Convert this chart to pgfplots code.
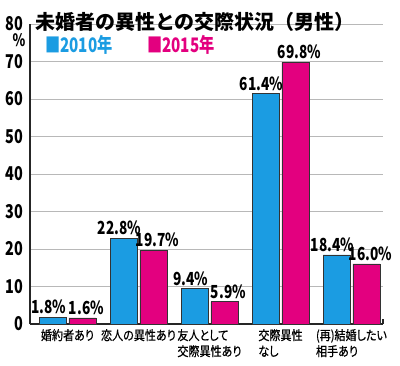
\documentclass[border=0pt]{standalone}
\usepackage{fontspec}
\usepackage{pgfplots}
\pgfplotsset{compat=1.18}
\setmainfont{Noto Sans CJK JP}
\newfontfamily\jp{Noto Sans CJK JP}
\newfontfamily\jpn{Noto Sans CJK JP}[FakeStretch=0.85, RawFeature=+palt, FakeBold=0.6]
\newfontfamily\num{Noto Sans CJK JP}[FakeStretch=0.76]
\definecolor{c1}{HTML}{1B9CE2}
\definecolor{c2}{HTML}{E3007F}
\begin{document}
\begin{tikzpicture}
\begin{axis}[name=ax, scale only axis, width=353pt, height=300pt,
  xmin=-0.528, xmax=4.444, ymin=0, ymax=80,
  axis x line*=bottom, axis y line*=left,
  ytick={0,10,...,80}, ymajorgrids,
  grid style={black!28, line width=0.6pt},
  xtick={0,...,4},
  xticklabels={婚約者あり, 恋人の異性あり, {友人として\\交際異性あり}, {交際異性\\なし}, {(再)結婚したい\\相手あり}},
  xticklabel style={align=left, anchor=north, font=\jpn\fontsize{13}{16}\selectfont, inner sep=0pt, yshift=-5pt},
  major tick length=0pt,
  extra x ticks={4.444}, extra x tick labels={},
  extra x tick style={major tick length=5pt, tick align=inside, tick style={line width=1.1pt, black!85}},
  axis line style={line width=1.2pt, black!85},
  ybar, bar width=0.38,
  yticklabel style={font=\num\bfseries\fontsize{19}{19}\selectfont, inner sep=0pt, xshift=-7pt},
  /pgf/number format/assume math mode=true,
  nodes near coords={\pgfmathprintnumber[fixed,fixed zerofill,precision=1]{\pgfplotspointmeta}\%},
  every node near coord/.append style={font=\num\bfseries\fontsize{18}{18}\selectfont, text=black, anchor=south, inner sep=1pt, yshift=2pt},
  clip=false,
]
\addplot[fill=c1, draw=black!80, line width=0.8pt, bar shift=-0.211, nodes near coords style={xshift=-4pt}]
  coordinates {(0,1.8) (1,22.8) (2,9.4) (3,61.4) (4,18.4)};
\addplot[fill=c2, draw=black!80, line width=0.8pt, bar shift=0.211, nodes near coords style={xshift=4pt}]
  coordinates {(0,1.6) (1,19.7) (2,5.9) (3,69.8) (4,16.0)};
\end{axis}
\node[font=\jp\bfseries\fontsize{20}{21}\selectfont, anchor=center] at ([shift={(165pt,2pt)}]ax.north west) {未婚者の異性との交際状況（男性）};
\node[font=\num\bfseries\fontsize{17}{17}\selectfont, anchor=center] at ([shift={(-11pt,-16pt)}]ax.north west) {\%};
\node[font=\num\bfseries\fontsize{20}{20}\selectfont, text=c1, anchor=west, inner sep=0pt] at ([shift={(15pt,-21pt)}]ax.north west) {■2010年};
\node[font=\num\bfseries\fontsize{20}{20}\selectfont, text=c2, anchor=west, inner sep=0pt] at ([shift={(117pt,-21pt)}]ax.north west) {■2015年};
\pgfresetboundingbox
\path[use as bounding box] ([shift={(-30pt,-42pt)}]ax.south west) rectangle ([shift={(17pt,24pt)}]ax.north east);
\end{tikzpicture}
\end{document}
